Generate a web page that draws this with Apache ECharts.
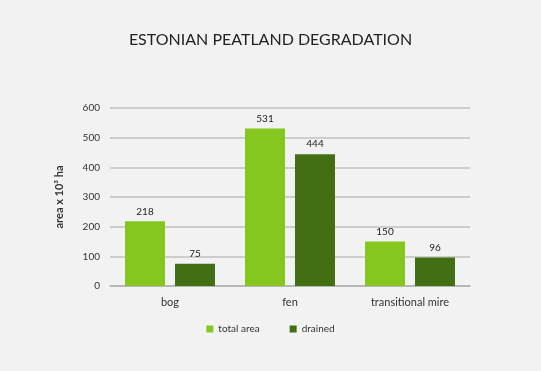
<!DOCTYPE html>
<html><head><meta charset="utf-8">
<script src="https://cdn.jsdelivr.net/npm/echarts@6/dist/echarts.min.js"></script>
<style>html,body{margin:0;padding:0;background:#f2f2f2}#c{width:541px;height:371px}</style>
</head><body><div id="c"></div>
<script>
const categories = ['bog', 'fen', 'transitional mire'];
const totalArea = [218, 531, 150];
const drained = [75, 444, 96];
const yTicks = { min: 0, max: 600, interval: 100 };

const chart = echarts.init(document.getElementById('c'));
const font = 'Lato, "Open Sans", sans-serif';
chart.setOption({
  backgroundColor: '#f2f2f2',
  animation: false,
  title: { text: 'ESTONIAN PEATLAND DEGRADATION', left: 'center', top: 27,
    textStyle: { fontFamily: font, fontSize: 16, fontWeight: 'normal', color: '#222' } },
  grid: { left: 110, right: 71, top: 108, bottom: 85 },
  legend: { top: 319, left: 'center', itemWidth: 7, itemHeight: 7, itemGap: 30, icon: 'rect',
    textStyle: { fontFamily: font, fontSize: 10, color: '#333' } },
  xAxis: { type: 'category', data: categories,
    axisLine: { lineStyle: { color: '#b0b0b0', width: 1.5 } }, axisTick: { show: false },
    axisLabel: { fontFamily: font, fontSize: 11, color: '#333', margin: 11 } },
  yAxis: { type: 'value', min: yTicks.min, max: yTicks.max, interval: yTicks.interval,
    name: 'area x 10³ ha', nameLocation: 'middle', nameGap: 45, nameRotate: 90,
    nameTextStyle: { fontFamily: font, fontSize: 11, fontWeight: 'bold', color: '#333' },
    axisLine: { show: false }, axisTick: { show: false },
    axisLabel: { fontFamily: font, fontSize: 10, color: '#333', margin: 10 },
    splitLine: { lineStyle: { color: '#c0c0c0', width: 1.5 } } },
  series: [
    { name: 'total area', type: 'bar', data: totalArea, barGap: '25%', barCategoryGap: '25%',
      itemStyle: { color: '#85c61f' },
      label: { show: true, position: 'top', fontFamily: font, fontSize: 10, color: '#222' } },
    { name: 'drained', type: 'bar', data: drained,
      itemStyle: { color: '#416f12' },
      label: { show: true, position: 'top', fontFamily: font, fontSize: 10, color: '#222' } }
  ]
});
</script></body></html>
